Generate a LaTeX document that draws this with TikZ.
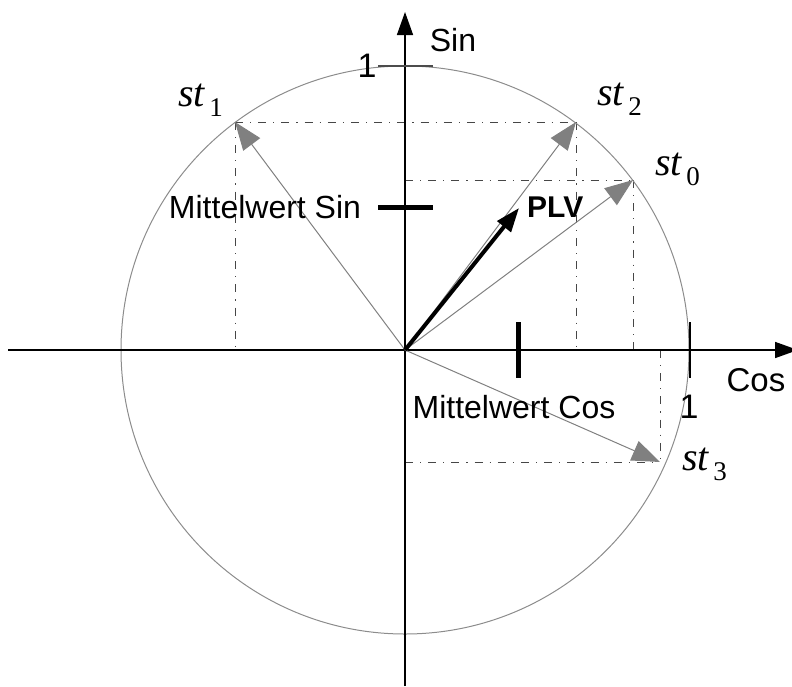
\documentclass[tikz,border=0pt]{standalone}
\usepackage{fontspec}
\setmainfont{Liberation Sans}
\newfontfamily\tnr{Liberation Serif}
\usetikzlibrary{arrows.meta}
\definecolor{vecgray}{RGB}{128,128,128}
\definecolor{circgray}{RGB}{140,140,140}
\definecolor{projgray}{RGB}{70,70,70}
\newcommand{\stlab}[1]{{\tnr\itshape st}\raisebox{-10pt}{\tnr\fontsize{27}{27}\selectfont\,#1}}
\begin{document}
\begin{tikzpicture}[x=1pt,y=-1pt,
  axis/.style={line width=1.5pt,black},
  vec/.style={line width=1pt,draw=vecgray,-{Triangle[length=28pt,width=21pt,fill=vecgray]}},
  proj/.style={line width=0.8pt,draw=projgray,dash pattern=on 8pt off 7pt on 1.2pt off 7pt},
  meanbar/.style={line width=5pt,black},
  lbl/.style={font=\fontsize{32}{32}\selectfont,inner sep=0pt},
  stl/.style={font=\fontsize{40}{40}\selectfont,inner sep=0pt,anchor=base west}]
\useasboundingbox (0,0) rectangle (792,686);
% points
\coordinate (O) at (405,350);
\coordinate (P1) at (235,122);
\coordinate (P2) at (576,122);
\coordinate (P0) at (633,180);
\coordinate (P3) at (660,462);
\coordinate (PLV) at (519,208);
\coordinate (X1) at (235,350);
\coordinate (X2) at (576,350);
\coordinate (X0) at (633,350);
\coordinate (X3) at (660,350);
\coordinate (Y0) at (405,180);
\coordinate (Y3) at (405,462);
\coordinate (AxB) at (405,686);
\coordinate (AxT) at (405,12);
\coordinate (AxL) at (8,350);
\coordinate (AxR) at (798,350);
\coordinate (TtL) at (378,66);
\coordinate (TtR) at (433,66);
\coordinate (RtT) at (690,322);
\coordinate (RtB) at (690,378);
\coordinate (MsL) at (378,207);
\coordinate (MsR) at (433,207);
\coordinate (McT) at (518,322);
\coordinate (McB) at (518,378);
% projection lines
\draw[proj] (P1) -- (P2);
\draw[proj] (P1) -- (X1);
\draw[proj] (P2) -- (X2);
\draw[proj] (Y0) -- (P0);
\draw[proj] (P0) -- (X0);
\draw[proj] (Y3) -- (P3);
\draw[proj] (X3) -- (P3);
% circle
\draw[line width=1pt,circgray] (O) circle[radius=284pt];
% axes
\draw[axis,-{Triangle[length=23pt,width=16pt]}] (AxB) -- (AxT);
\draw[axis,-{Triangle[length=23pt,width=16pt]}] (AxL) -- (AxR);
% unit ticks
\draw[line width=2pt,black!70] (TtL) -- (TtR);
\draw[line width=2pt,black] (RtT) -- (RtB);
% vectors
\draw[vec] (O) -- (P1);
\draw[vec] (O) -- (P2);
\draw[vec] (O) -- (P0);
\draw[vec] (O) -- (P3);
\draw[line width=4pt,-{Triangle[length=24pt,width=17pt]}] (O) -- (PLV);
% mean bars
\draw[meanbar] (MsL) -- (MsR);
\draw[meanbar] (McT) -- (McB);
% labels
\node[lbl] (lsin) at (453,40) {Sin};
\node[lbl,font=\fontsize{33}{33}\selectfont] (lcos) at (756,380) {Cos};
\node[lbl,font=\fontsize{34}{34}\selectfont] (lone1) at (367,66) {1};
\node[lbl,font=\fontsize{34}{34}\selectfont] (lone2) at (689,407) {1};
\node[lbl] (lms) at (265,207) {Mittelwert Sin};
\node[lbl] (lmc) at (514,407) {Mittelwert Cos};
\node[lbl,font=\fontsize{30}{30}\selectfont\bfseries,anchor=west] (lplv) at (527,207) {PLV};
\node[stl] (s1) at (178,106) {\stlab{1}};
\node[stl] (s2) at (597,105) {\stlab{2}};
\node[stl] (s0) at (655,175) {\stlab{0}};
\node[stl] (s3) at (682,470) {\stlab{3}};
\end{tikzpicture}
\end{document}
